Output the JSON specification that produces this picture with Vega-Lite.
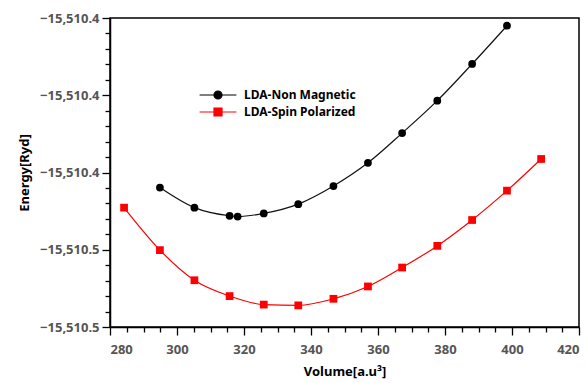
{
  "$schema": "https://vega.github.io/schema/vega-lite/v6.json",
  "autosize": "none",
  "width": 469,
  "height": 309,
  "padding": {"left": 110, "top": 18, "right": 8, "bottom": 56},
  "background": "white",
  "config": {
    "font": "Noto Sans",
    "view": {"stroke": "black", "strokeWidth": 1.5},
    "axis": {
      "domainColor": "black",
      "domainWidth": 1.5,
      "tickColor": "black",
      "tickWidth": 1.3,
      "grid": false,
      "labelFont": "Noto Sans",
      "labelFontWeight": "bold",
      "labelFontSize": 13,
      "labelColor": "#555555",
      "titleFont": "Noto Sans",
      "titleFontWeight": "bold",
      "titleFontSize": 13,
      "titleColor": "black"
    },
    "legend": {
      "orient": "none",
      "legendX": 102,
      "legendY": 71,
      "padding": 0,
      "symbolSize": 64,
      "symbolStrokeWidth": 1.2,
      "symbolOpacity": 1,
      "rowPadding": 3,
      "labelOffset": 20,
      "labelFont": "Noto Sans",
      "labelFontWeight": "bold",
      "labelFontSize": 12,
      "labelColor": "black"
    }
  },
  "data": {
    "values": [
      {"series": "LDA-Non Magnetic", "volume": 294.9, "energy": -15510.4439},
      {"series": "LDA-Non Magnetic", "volume": 305.2, "energy": -15510.4491},
      {"series": "LDA-Non Magnetic", "volume": 315.7, "energy": -15510.4512},
      {"series": "LDA-Non Magnetic", "volume": 318.1, "energy": -15510.4514},
      {"series": "LDA-Non Magnetic", "volume": 325.9, "energy": -15510.4506},
      {"series": "LDA-Non Magnetic", "volume": 336.2, "energy": -15510.4482},
      {"series": "LDA-Non Magnetic", "volume": 346.7, "energy": -15510.4435},
      {"series": "LDA-Non Magnetic", "volume": 357.0, "energy": -15510.4375},
      {"series": "LDA-Non Magnetic", "volume": 367.2, "energy": -15510.4298},
      {"series": "LDA-Non Magnetic", "volume": 377.7, "energy": -15510.4214},
      {"series": "LDA-Non Magnetic", "volume": 388.1, "energy": -15510.4119},
      {"series": "LDA-Non Magnetic", "volume": 398.5, "energy": -15510.4020},
      {"series": "LDA-Spin Polarized", "volume": 284.2, "energy": -15510.4491},
      {"series": "LDA-Spin Polarized", "volume": 294.9, "energy": -15510.4601},
      {"series": "LDA-Spin Polarized", "volume": 305.2, "energy": -15510.4679},
      {"series": "LDA-Spin Polarized", "volume": 315.7, "energy": -15510.4720},
      {"series": "LDA-Spin Polarized", "volume": 325.9, "energy": -15510.4742},
      {"series": "LDA-Spin Polarized", "volume": 336.2, "energy": -15510.4744},
      {"series": "LDA-Spin Polarized", "volume": 346.7, "energy": -15510.4727},
      {"series": "LDA-Spin Polarized", "volume": 357.0, "energy": -15510.4695},
      {"series": "LDA-Spin Polarized", "volume": 367.2, "energy": -15510.4646},
      {"series": "LDA-Spin Polarized", "volume": 377.7, "energy": -15510.4590},
      {"series": "LDA-Spin Polarized", "volume": 388.1, "energy": -15510.4523},
      {"series": "LDA-Spin Polarized", "volume": 398.5, "energy": -15510.4447},
      {"series": "LDA-Spin Polarized", "volume": 408.7, "energy": -15510.4365}
    ]
  },
  "encoding": {
    "x": {
      "field": "volume",
      "type": "quantitative",
      "scale": {"domain": [280, 420], "nice": false, "zero": false},
      "axis": {
        "title": "Volume[a.u³]",
        "titlePadding": 9,
        "values": [280,285,290,295,300,305,310,315,320,325,330,335,340,345,350,355,360,365,370,375,380,385,390,395,400,405,410,415,420],
        "labelExpr": "datum.value % 20 === 0 ? datum.label : ''",
        "labelOverlap": false,
        "labelPadding": 8,
        "tickSize": {"condition": {"test": "datum.value % 20 === 0", "value": 8}, "value": 5}
      }
    },
    "y": {
      "field": "energy",
      "type": "quantitative",
      "scale": {"domain": [-15510.48, -15510.40], "nice": false, "zero": false},
      "axis": {
        "title": "Energy[Ryd]",
        "titlePadding": 8,
        "values": [-15510.48,-15510.476,-15510.472,-15510.468,-15510.464,-15510.46,-15510.456,-15510.452,-15510.448,-15510.444,-15510.44,-15510.436,-15510.432,-15510.428,-15510.424,-15510.42,-15510.416,-15510.412,-15510.408,-15510.404,-15510.40],
        "labelExpr": "abs(datum.value*50 - round(datum.value*50)) < 0.01 ? format(datum.value, ',.1f') : ''",
        "labelOverlap": false,
        "labelPadding": 3,
        "tickSize": {"condition": {"test": "abs(datum.value*50 - round(datum.value*50)) < 0.01", "value": 8}, "value": 5}
      }
    }
  },
  "layer": [
    {
      "transform": [{"filter": "datum.series === 'LDA-Non Magnetic'"}],
      "mark": {"type": "line", "interpolate": "monotone", "strokeWidth": 1.2, "color": "#111111"}
    },
    {
      "transform": [{"filter": "datum.series === 'LDA-Spin Polarized'"}],
      "mark": {"type": "line", "interpolate": "monotone", "strokeWidth": 1.2, "color": "#ff0000"}
    },
    {
      "transform": [{"filter": "datum.series === 'LDA-Non Magnetic'"}],
      "mark": {"type": "point", "shape": "circle", "filled": true, "opacity": 1, "size": 60, "color": "black"}
    },
    {
      "transform": [{"filter": "datum.series === 'LDA-Spin Polarized'"}],
      "mark": {"type": "point", "shape": "square", "filled": true, "opacity": 1, "size": 60, "color": "#ff0000"}
    },
    {
      "mark": {"type": "point", "opacity": 0, "strokeWidth": 1.2},
      "encoding": {
        "shape": {
          "field": "series",
          "type": "nominal",
          "title": null,
          "scale": {"domain": ["LDA-Non Magnetic", "LDA-Spin Polarized"], "range": ["M-4.6,0H4.6M-1,0A1,1 0 1,0 1,0A1,1 0 1,0 -1,0Z", "M-4.6,0H4.6M-1,-1H1V1H-1Z"]}
        },
        "fill": {
          "field": "series",
          "type": "nominal",
          "title": null,
          "scale": {"domain": ["LDA-Non Magnetic", "LDA-Spin Polarized"], "range": ["black", "#ff0000"]}
        },
        "stroke": {
          "field": "series",
          "type": "nominal",
          "title": null,
          "scale": {"domain": ["LDA-Non Magnetic", "LDA-Spin Polarized"], "range": ["black", "#ff0000"]}
        }
      }
    }
  ]
}
